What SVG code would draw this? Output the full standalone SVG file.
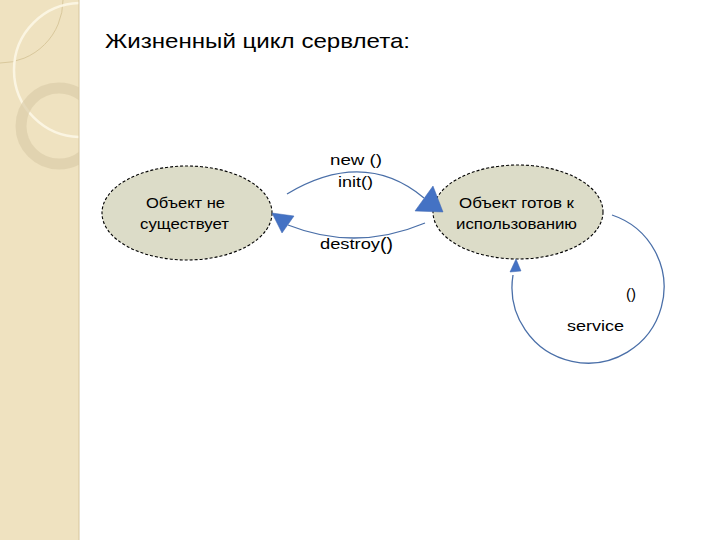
<svg xmlns="http://www.w3.org/2000/svg" width="720" height="540" viewBox="0 0 720 540">
  <style>
    .node { fill: #dcdcc8; stroke: #000000; stroke-width: 1.1; stroke-dasharray: 3 2; }
    .lbl { font-family: "Liberation Sans", Arial, sans-serif; font-size: 14px; fill: #000000; }
    .edge { fill: none; stroke: #4a6fa8; stroke-width: 1.3; }
    .head { fill: #4472c4; stroke: #3f67b0; stroke-width: 0.5; }
  </style>
  <defs>
    <clipPath id="stripClip"><rect x="0" y="0" width="79" height="540"/></clipPath>
  </defs>
  <rect x="0" y="0" width="720" height="540" fill="#ffffff"/>
  <g id="sidebar">
    <rect x="0" y="0" width="79" height="540" fill="#efe2c0"/>
    <g clip-path="url(#stripClip)">
      <path d="M 63 0 A 63 63 0 0 1 0 63" fill="none" stroke="#d9c89c" stroke-width="1"/>
      <circle cx="81" cy="70" r="67" fill="none" stroke="#fbf5e2" stroke-width="2.5"/>
      <circle cx="59" cy="126" r="38" fill="none" stroke="#dccdaa" stroke-opacity="0.7" stroke-width="11"/>
    </g>
    <line x1="79" y1="0" x2="79" y2="540" stroke="#d6c69e" stroke-width="1"/>
  </g>
  <text class="lbl" x="105" y="48" style="font-size:21px" textLength="305" lengthAdjust="spacingAndGlyphs">Жизненный цикл сервлета:</text>
  <g id="node-not-exist">
    <ellipse class="node" cx="187" cy="213" rx="85" ry="47"/>
    <text class="lbl" x="146" y="208" textLength="79" lengthAdjust="spacingAndGlyphs">Объект не</text>
    <text class="lbl" x="140" y="229" textLength="89" lengthAdjust="spacingAndGlyphs">существует</text>
  </g>
  <g id="node-ready">
    <ellipse class="node" cx="518" cy="212" rx="85" ry="47"/>
    <text class="lbl" x="459" y="208" textLength="115" lengthAdjust="spacingAndGlyphs">Объект готов к</text>
    <text class="lbl" x="456" y="229" textLength="121" lengthAdjust="spacingAndGlyphs">использованию</text>
  </g>
  <g id="connectors">
    <path class="edge" d="M 287 194 Q 364 148 424 198"/>
    <polygon class="head" points="443,212 415,211 433,186"/>
    <path class="edge" d="M 425 223 Q 356 252 288 225"/>
    <polygon class="head" points="272,213 294,216 282,233"/>
    <path class="edge" d="M 612 215 A 76 76 0 1 1 513 275"/>
    <polygon class="head" points="516,259 510,272 521,271"/>
    <text class="lbl" x="330" y="165" textLength="52" lengthAdjust="spacingAndGlyphs">new ()</text>
    <text class="lbl" x="338" y="187" textLength="35" lengthAdjust="spacingAndGlyphs">init()</text>
    <text class="lbl" x="320" y="249" textLength="60" lengthAdjust="spacingAndGlyphs">destroy</text>
    <text class="lbl" x="380" y="250" style="font-size:18px" textLength="13" lengthAdjust="spacingAndGlyphs">()</text>
    <text class="lbl" x="626" y="299" textLength="10" lengthAdjust="spacingAndGlyphs">()</text>
    <text class="lbl" x="567" y="331" textLength="57" lengthAdjust="spacingAndGlyphs">service</text>
  </g>
</svg>
